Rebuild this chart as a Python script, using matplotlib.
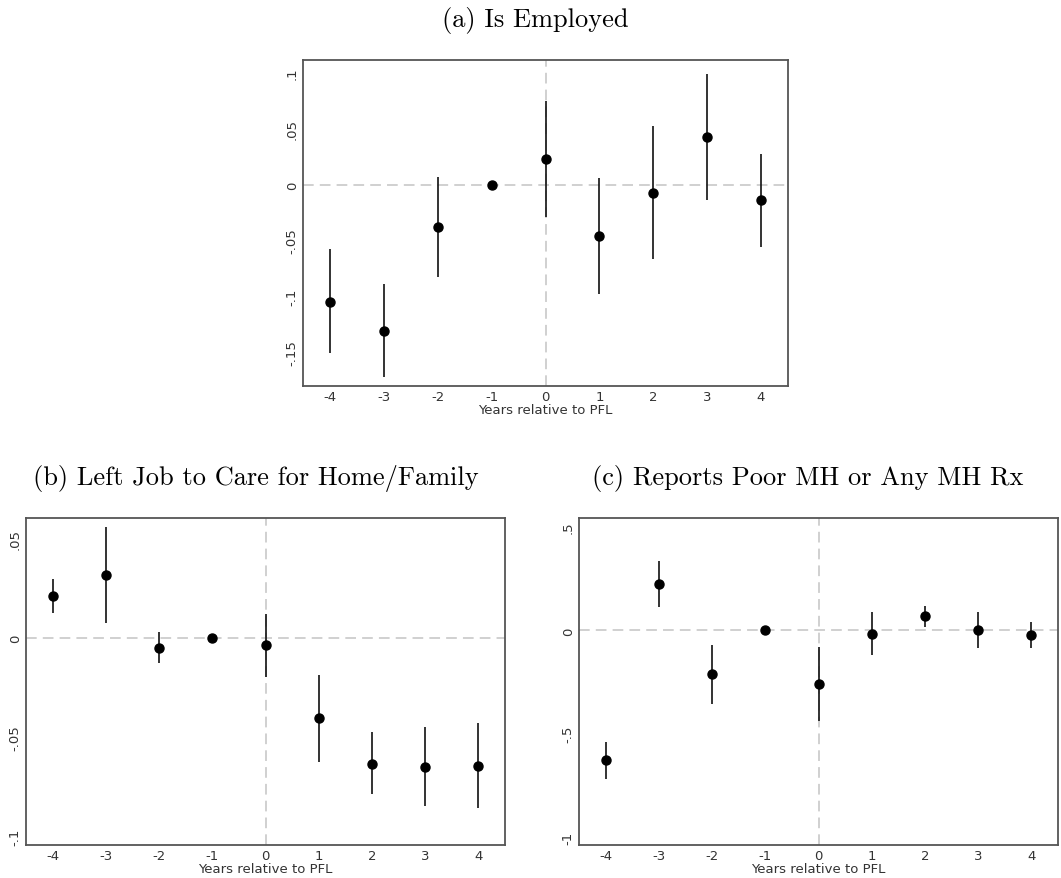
import numpy as np
import matplotlib
matplotlib.use("Agg")
import matplotlib.pyplot as plt

plt.rcParams["axes.unicode_minus"] = False

years = [-4, -3, -2, -1, 0, 1, 2, 3, 4]

# (a) Is Employed
emp_est = [-0.105, -0.131, -0.0377, 0.0, 0.0228, -0.046, -0.0072, 0.0428, -0.0143]
emp_lo = [-0.151, -0.173, -0.0826, 0.0, -0.0293, -0.098, -0.0667, -0.0137, -0.0562]
emp_hi = [-0.058, -0.089, 0.0072, 0.0, 0.0745, 0.0063, 0.0524, 0.099, 0.0273]

# (b) Left Job to Care for Home/Family
left_est = [0.0208, 0.0314, -0.005, 0.0, -0.0037, -0.0406, -0.0634, -0.0651, -0.0646]
left_lo = [0.0123, 0.0072, -0.0128, 0.0, -0.0198, -0.0626, -0.0789, -0.0849, -0.0859]
left_hi = [0.0294, 0.0559, 0.0027, 0.0, 0.0121, -0.0188, -0.0477, -0.0448, -0.0431]

# (c) Reports Poor MH or Any MH Rx
mh_est = [-0.627, 0.224, -0.213, 0.0, -0.261, -0.016, 0.068, 0.0, -0.023]
mh_lo = [-0.719, 0.115, -0.355, 0.0, -0.440, -0.119, 0.018, -0.085, -0.085]
mh_hi = [-0.539, 0.335, -0.069, 0.0, -0.079, 0.087, 0.116, 0.087, 0.039]

fig = plt.figure(figsize=(10.61, 8.79), dpi=100)
title_font = dict(family="cmr10", size=19)


def event_plot(ax, est, lo, hi, yticks, yticklabels, ylim):
    ax.axhline(0, color="#c4c4c4", lw=1.1, ls=(0, (7, 4)), zorder=1)
    ax.axvline(0, color="#c4c4c4", lw=1.1, ls=(0, (7, 4)), zorder=1)
    ax.vlines(years, lo, hi, color="#111111", lw=1.2, zorder=2)
    ax.plot(years, est, "o", color="black", ms=6.5, zorder=3)
    ax.set_xlim(-4.5, 4.5)
    ax.set_ylim(*ylim)
    ax.set_xticks(years)
    ax.set_xticklabels([str(y) for y in years])
    ax.set_yticks(yticks)
    ax.set_yticklabels(yticklabels, rotation=90, va="center")
    ax.tick_params(length=0, pad=3, labelsize=9.5, colors="#333333")
    ax.set_xlabel("Years relative to PFL", fontsize=9.5, color="#333333", labelpad=0)
    for s in ax.spines.values():
        s.set_color("#555555")
        s.set_linewidth(1.3)


ax_a = fig.add_axes([0.2856, 0.5597, 0.4571, 0.3709])
event_plot(ax_a, emp_est, emp_lo, emp_hi,
           [-0.15, -0.1, -0.05, 0, 0.05, 0.1], ["-.15", "-.1", "-.05", "0", ".05", ".1"],
           (-0.1807, 0.1117))

ax_b = fig.add_axes([0.0245, 0.0375, 0.4515, 0.3721])
event_plot(ax_b, left_est, left_lo, left_hi,
           [-0.1, -0.05, 0, 0.05], ["-.1", "-.05", "0", ".05"],
           (-0.1044, 0.0603))

ax_c = fig.add_axes([0.5457, 0.0375, 0.4515, 0.3721])
event_plot(ax_c, mh_est, mh_lo, mh_hi,
           [-1, -0.5, 0, 0.5], ["-1", "-.5", "0", ".5"],
           (-1.0387, 0.5435))

fig.text(0.505, 0.977, "(a) Is Employed", ha="center", va="center", **title_font)
fig.text(0.2408, 0.456, "(b) Left Job to Care for Home/Family", ha="center", va="center", **title_font)
fig.text(0.7615, 0.456, "(c) Reports Poor MH or Any MH Rx", ha="center", va="center", **title_font)

fig.savefig("out.png", dpi=100, facecolor="white")
